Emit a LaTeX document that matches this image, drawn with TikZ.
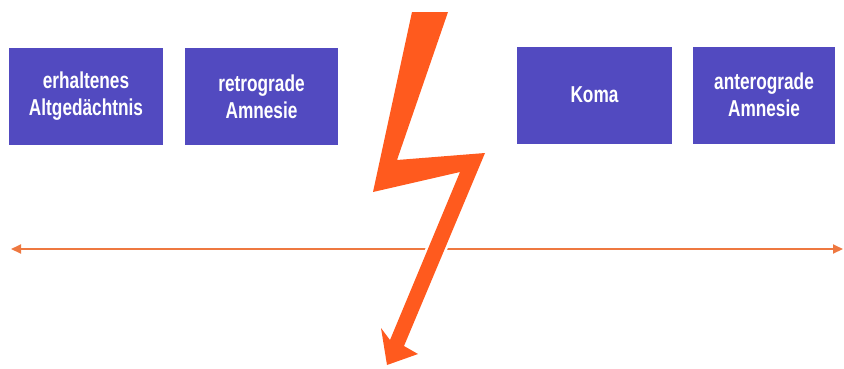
\documentclass[tikz,border=0pt]{standalone}
\usepackage{fontspec}
\setsansfont[FakeStretch=0.75]{Liberation Sans}
\usetikzlibrary{arrows.meta}
\definecolor{boxblue}{RGB}{82,74,192}
\definecolor{lineorange}{RGB}{238,120,64}
\definecolor{boltorange}{RGB}{255,90,30}

\begin{document}
\begin{tikzpicture}[x=1pt,y=-1pt,>={Triangle[length=10pt,width=9pt]},
  bx/.style={rectangle,fill=boxblue,inner sep=0pt,minimum height=97pt,text=white,align=center,font=\sffamily\bfseries\fontsize{23}{27}\selectfont}]
  \useasboundingbox (0,0) rectangle (844,368);
  \node[bx,minimum width=154pt](alt) at (86,96.5){erhaltenes\\Altgedächtnis};
  \node[bx,minimum width=153pt](retro) at (261.5,96.5){retrograde\\Amnesie};
  \node[bx,minimum width=155pt](koma) at (594.5,95){Koma};
  \node[bx,minimum width=142pt](antero) at (764,95){anterograde\\Amnesie};
  \coordinate (tl) at (11,249);
  \coordinate (tr) at (843,249);
  \draw[<->,lineorange,line width=2pt] (tl)--(tr);
  % bolt
  \path[preaction={draw=white,line width=5pt,line join=round},fill=boltorange]
    (412,12)--(448,12)--(397,160)--(485,153)--(404,346)--(418,354)--(387,365)
    --(381,328)--(390,340)--(460,172)--(373,192)--cycle;
\end{tikzpicture}
\end{document}
